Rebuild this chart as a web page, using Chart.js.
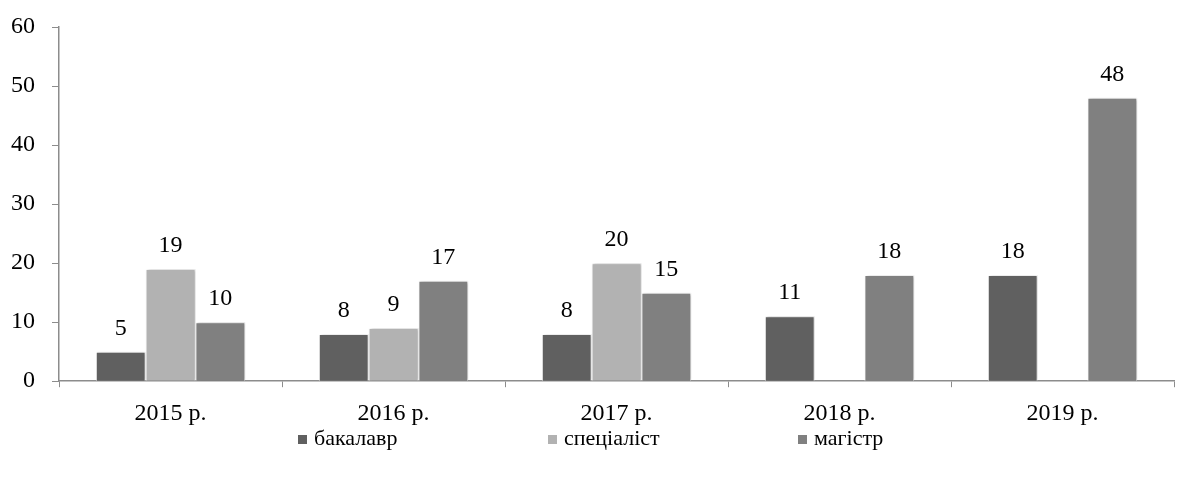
<!DOCTYPE html>
<html>
<head>
<meta charset="utf-8">
<script src="https://cdn.jsdelivr.net/npm/chart.js@4"></script>
<style>
  html, body { margin: 0; padding: 0; background: #fff; }
  #wrap { position: relative; width: 1177px; height: 482px; }
  #legend { position: absolute; left: 298px; top: 425px; display: flex; font-family: "Liberation Serif", serif; font-size: 22px; color: #000; }
  #legend .item { width: 250px; display: flex; align-items: center; }
  #legend .box { width: 9px; height: 9px; margin-right: 7px; margin-top: 2px; }
</style>
</head>
<body>
<div id="wrap">
  <canvas id="c" width="1177" height="482"></canvas>
  <div id="legend"></div>
</div>
<script>
const categories = ["2015 р.", "2016 р.", "2017 р.", "2018 р.", "2019 р."];
const bachelor = [5, 8, 8, 11, 18];
const specialist = [19, 9, 20, null, null];
const master = [10, 17, 15, 18, 48];
const seriesNames = ["бакалавр", "спеціаліст", "магістр"];
const seriesColors = ["#606060", "#b2b2b2", "#808080"];
const yTicks = [0, 10, 20, 30, 40, 50, 60];

const FONT = "Liberation Serif";

const shadowPlugin = {
  id: "barShadow",
  beforeDatasetDraw(chart) {
    const ctx = chart.ctx;
    ctx.save();
    ctx.shadowColor = "rgba(0,0,0,0.28)";
    ctx.shadowBlur = 3;
    ctx.shadowOffsetX = 1.5;
    ctx.shadowOffsetY = 0;
  },
  afterDatasetDraw(chart) {
    chart.ctx.restore();
  }
};

const labelPlugin = {
  id: "valueLabels",
  afterDatasetsDraw(chart) {
    const ctx = chart.ctx;
    ctx.save();
    ctx.font = "24px '" + FONT + "'";
    ctx.fillStyle = "#000";
    ctx.textAlign = "center";
    ctx.textBaseline = "alphabetic";
    chart.data.datasets.forEach((ds, i) => {
      const meta = chart.getDatasetMeta(i);
      meta.data.forEach((el, j) => {
        const v = ds.data[j];
        if (v === null || v === undefined) return;
        ctx.fillText(String(v), el.x, el.y - 17);
      });
    });
    ctx.restore();
  }
};

const datasets = [bachelor, specialist, master].map((d, i) => ({
  label: seriesNames[i],
  data: d,
  backgroundColor: seriesColors[i],
  borderColor: "#ffffff",
  borderWidth: 1,
  categoryPercentage: 0.67,
  barPercentage: 1.0
}));

new Chart(document.getElementById("c"), {
  type: "bar",
  data: { labels: categories, datasets },
  options: {
    responsive: false,
    animation: false,
    layout: { padding: { top: 27, right: 3, bottom: 42, left: 0 } },
    plugins: { legend: { display: false }, tooltip: { enabled: false } },
    scales: {
      x: {
        grid: { display: true, drawOnChartArea: false, drawTicks: true, tickLength: 6, color: "#8c8c8c", offset: true },
        border: { display: true, color: "#8c8c8c", width: 1.5 },
        ticks: { color: "#000", font: { family: FONT, size: 24 }, padding: 12 }
      },
      y: {
        min: 0, max: 60,
        afterBuildTicks(scale) { scale.ticks = yTicks.map(v => ({ value: v })); },
        afterFit(scale) { scale.width = 59; scale.paddingTop = 0; scale.paddingBottom = 0; },
        grid: { display: true, drawOnChartArea: false, drawTicks: true, tickLength: 7, color: "#8c8c8c" },
        border: { display: true, color: "#8c8c8c", width: 1.5 },
        ticks: { color: "#000", font: { family: FONT, size: 24 }, padding: 17 }
      }
    }
  },
  plugins: [shadowPlugin, labelPlugin]
});

const legend = document.getElementById("legend");
seriesNames.forEach((n, i) => {
  const it = document.createElement("div");
  it.className = "item";
  const b = document.createElement("span");
  b.className = "box";
  b.style.background = seriesColors[i];
  const t = document.createElement("span");
  t.textContent = n;
  it.appendChild(b); it.appendChild(t);
  legend.appendChild(it);
});
</script>
</body>
</html>
